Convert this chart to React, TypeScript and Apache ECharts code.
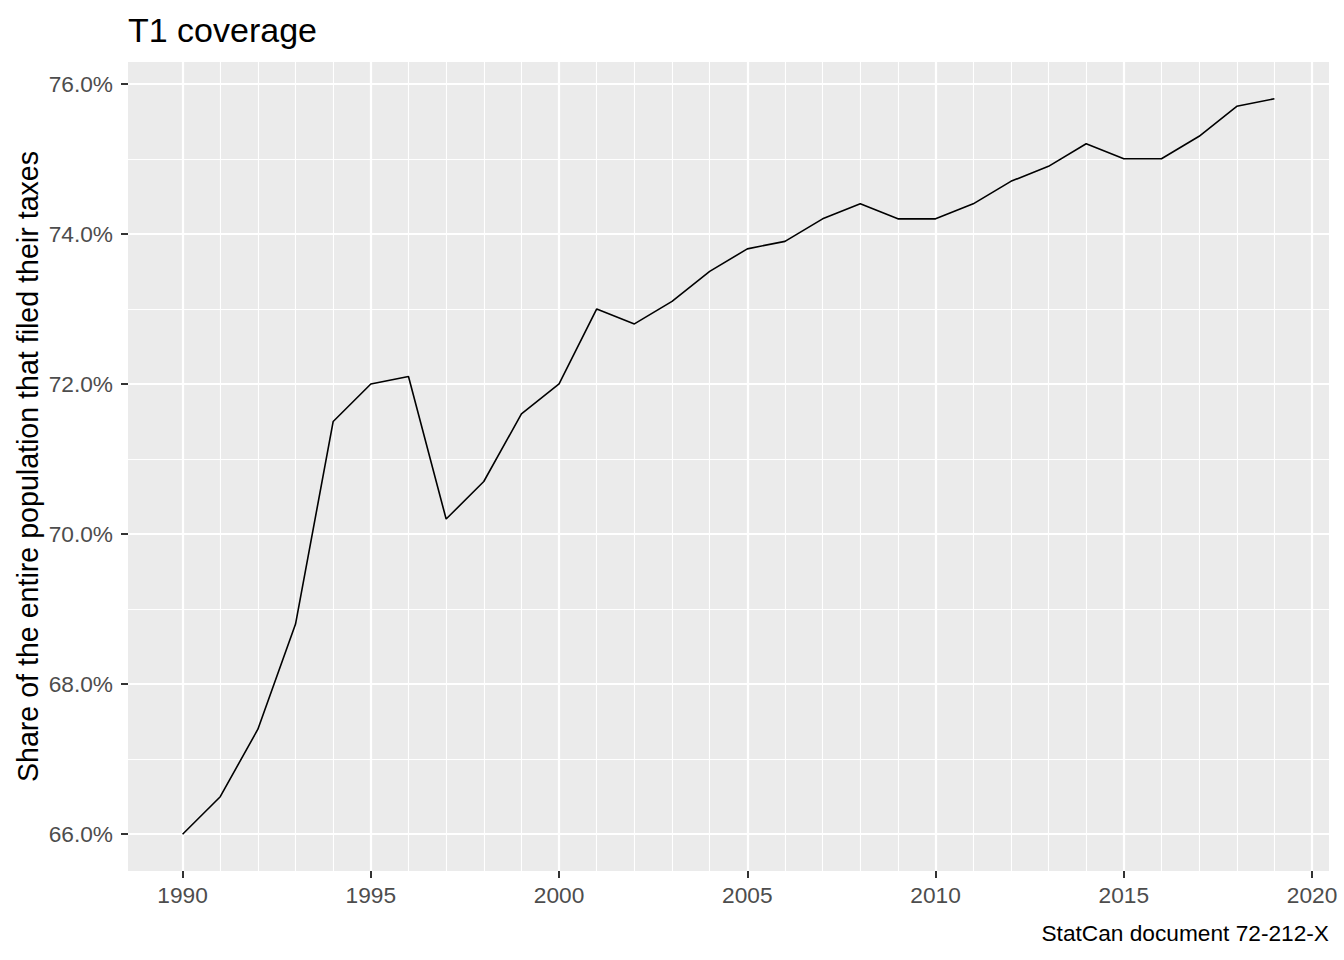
import React, { useEffect, useRef } from "react";
import * as echarts from "echarts";

const years = [1990, 1991, 1992, 1993, 1994, 1995, 1996, 1997, 1998, 1999, 2000, 2001, 2002, 2003, 2004, 2005, 2006, 2007, 2008, 2009, 2010, 2011, 2012, 2013, 2014, 2015, 2016, 2017, 2018, 2019];
const coverage = [66.0, 66.5, 67.4, 68.8, 71.5, 72.0, 72.1, 70.2, 70.7, 71.6, 72.0, 73.0, 72.8, 73.1, 73.5, 73.8, 73.9, 74.2, 74.4, 74.2, 74.2, 74.4, 74.7, 74.9, 75.2, 75.0, 75.0, 75.3, 75.7, 75.8];
const xTicks = [1990, 1995, 2000, 2005, 2010, 2015, 2020];
const xMinor = [1991, 1992, 1993, 1994, 1996, 1997, 1998, 1999, 2001, 2002, 2003, 2004, 2006, 2007, 2008, 2009, 2011, 2012, 2013, 2014, 2016, 2017, 2018, 2019];
const yTicks = [66, 68, 70, 72, 74, 76];
const yMinor = [67, 69, 71, 73, 75];

const FONT = "Liberation Sans, Arial, sans-serif";

export default function App() {
  const ref = useRef<HTMLDivElement>(null);
  useEffect(() => {
    if (!ref.current) return;
    const chart = echarts.init(ref.current, undefined, { renderer: "svg" });
    const xSpan = years[years.length - 1] - years[0];
    const yMinV = Math.min(...coverage);
    const yMaxV = Math.max(...coverage);
    const ySpan = yMaxV - yMinV;
    const gridLine = (vals: number[], key: string, width: number) =>
      vals.map((v) => ({ [key]: v, lineStyle: { color: "#FFFFFF", width, type: "solid" } }));
    chart.setOption({
      animation: false,
      backgroundColor: "#FFFFFF",
      title: {
        text: "T1 coverage",
        left: 123,
        top: 8,
        textStyle: { fontFamily: FONT, fontSize: 34, fontWeight: "normal", color: "#000000" },
      },
      grid: {
        left: 128,
        right: 15,
        top: 62,
        bottom: 89,
        show: true,
        backgroundColor: "#EBEBEB",
        borderWidth: 0,
      },
      xAxis: {
        type: "value",
        min: years[0] - xSpan * 0.05,
        max: years[years.length - 1] + xSpan * 0.05,
        axisLine: { show: false },
        splitLine: { show: false },
        axisTick: { show: true, customValues: xTicks, length: 7, lineStyle: { color: "#333333", width: 2 } },
        axisLabel: {
          customValues: xTicks,
          margin: 12,
          fontFamily: FONT,
          fontSize: 22.7,
          color: "#4D4D4D",
          formatter: (v: number) => String(v),
        },
      },
      yAxis: {
        type: "value",
        min: yMinV - ySpan * 0.05,
        max: yMaxV + ySpan * 0.05,
        name: "Share of the entire population that filed their taxes",
        nameLocation: "middle",
        nameGap: 86,
        nameMoveOverlap: false,
        nameTextStyle: { fontFamily: FONT, fontSize: 28.6, color: "#000000" },
        axisLine: { show: false },
        splitLine: { show: false },
        axisTick: { show: true, customValues: yTicks, length: 7, lineStyle: { color: "#333333", width: 2 } },
        axisLabel: {
          customValues: yTicks,
          margin: 15,
          fontFamily: FONT,
          fontSize: 22.7,
          color: "#4D4D4D",
          formatter: (v: number) => v.toFixed(1) + "%",
        },
      },
      series: [
        {
          type: "line",
          z: 1,
          data: years.map((y, i) => [y, coverage[i]]),
          showSymbol: false,
          lineStyle: { opacity: 0 },
          silent: true,
          markLine: {
            silent: true,
            symbol: ["none", "none"],
            label: { show: false },
            emphasis: { disabled: true },
            data: [
              ...gridLine(xMinor, "xAxis", 1.1),
              ...gridLine(yMinor, "yAxis", 1.1),
              ...gridLine(xTicks, "xAxis", 2.2),
              ...gridLine(yTicks, "yAxis", 2.2),
            ],
          },
        },
        {
          type: "line",
          z: 5,
          data: years.map((y, i) => [y, coverage[i]]),
          showSymbol: false,
          symbol: "none",
          lineStyle: { color: "#000000", width: 1.6 },
          silent: true,
        },
      ],
      graphic: [
        {
          type: "text",
          right: 15,
          top: 921,
          style: { text: "StatCan document 72-212-X", fontFamily: FONT, fontSize: 22.7, fill: "#000000" },
        },
      ],
    });
    return () => chart.dispose();
  }, []);
  return <div ref={ref} style={{ position: "fixed", left: 0, top: 0, width: 1344, height: 960 }} />;
}
